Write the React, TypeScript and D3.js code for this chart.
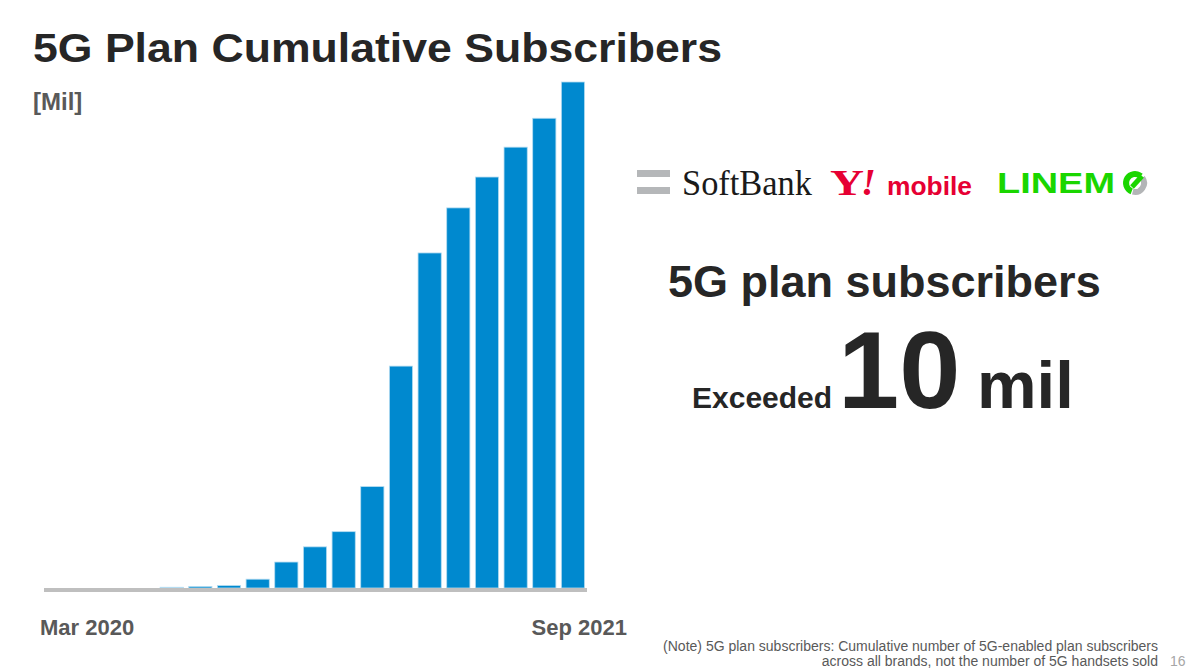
import { useMemo } from 'react';
import * as d3 from 'd3';

const W = 1200;
const H = 672;

// Mar 2020 .. Sep 2021, one bar per month
const months = [
  'Mar 2020', 'Apr 2020', 'May 2020', 'Jun 2020', 'Jul 2020', 'Aug 2020', 'Sep 2020',
  'Oct 2020', 'Nov 2020', 'Dec 2020', 'Jan 2021', 'Feb 2021', 'Mar 2021', 'Apr 2021',
  'May 2021', 'Jun 2021', 'Jul 2021', 'Aug 2021', 'Sep 2021',
];
// cumulative subscribers, millions
const subscribers = [
  0, 0, 0, 0, 0.015, 0.03, 0.05, 0.18, 0.53, 0.84, 1.15, 2.07, 4.53, 6.84,
  7.76, 8.39, 9.0, 9.59, 10.33,
];
const axisLabels = ['Mar 2020', 'Sep 2021'];
const footnoteLines = [
  '(Note) 5G plan subscribers: Cumulative number of 5G-enabled plan subscribers',
  'across all brands, not the number of 5G handsets sold',
];

const SANS = '"Liberation Sans", Arial, sans-serif';
const SERIF = '"Liberation Serif", "Times New Roman", serif';
const BAR = '#0089cf';
const DARK = '#262626';
const MID = '#595959';
const GREEN = '#1ad600';

const PLOT = { left: 44, right: 586, baseline: 588, top: 82 };

const LinemoO = ({ cx, cy }: { cx: number; cy: number }) => {
  const ring = d3.arc<any>().innerRadius(6).outerRadius(12);
  const cut = (40 * Math.PI) / 180;
  const green = ring({ startAngle: -Math.PI * 0.88, endAngle: cut }) || '';
  const gray = ring({ startAngle: cut + 0.25, endAngle: Math.PI * 1.08 }) || '';
  return (
    <g transform={`translate(${cx},${cy})`}>
      <path d={gray} fill="#b3b5b7" />
      <path d={green} fill={GREEN} />
      <line x1={7} y1={-7} x2={-3} y2={4} stroke={GREEN} strokeWidth={5} />
    </g>
  );
};

export default function App() {
  const x = useMemo(
    () =>
      d3.scaleBand<string>()
        .domain(months)
        .range([PLOT.left, PLOT.right])
        .paddingInner(0.19)
        .paddingOuter(0.05),
    []
  );
  const y = useMemo(
    () =>
      d3.scaleLinear()
        .domain([0, d3.max(subscribers) as number])
        .range([PLOT.baseline, PLOT.top]),
    []
  );

  return (
    <div style={{ position: 'absolute', left: 0, top: 0 }}>
      <svg width={W} height={H} style={{ display: 'block', background: '#fff' }}>
        {/* title */}
        <text x={33} y={62} fontFamily={SANS} fontWeight="bold" fontSize={41} fill={DARK}
          textLength={689} lengthAdjust="spacingAndGlyphs">
          5G Plan Cumulative Subscribers
        </text>
        <text x={33} y={110} fontFamily={SANS} fontWeight="bold" fontSize={24} fill={MID}>
          [Mil]
        </text>

        {/* bars */}
        <g>
          {months.map((m, i) => {
            const v = subscribers[i];
            if (v <= 0) return null;
            const yy = y(v);
            return (
              <rect
                key={m}
                x={x(m)}
                y={yy}
                width={x.bandwidth()}
                height={PLOT.baseline - yy}
                fill={BAR}
                stroke="#b5dcf1"
                strokeWidth={0.8}
              />
            );
          })}
        </g>
        <line
          x1={PLOT.left}
          x2={PLOT.right + 1}
          y1={PLOT.baseline + 2}
          y2={PLOT.baseline + 2}
          stroke="#bfbfbf"
          strokeWidth={4}
        />
        <text x={40} y={635} fontFamily={SANS} fontWeight="bold" fontSize={22} fill={MID}>
          {axisLabels[0]}
        </text>
        <text x={627} y={635} textAnchor="end" fontFamily={SANS} fontWeight="bold" fontSize={22} fill={MID}>
          {axisLabels[1]}
        </text>

        {/* brand logos */}
        <g>
          <rect x={637} y={170} width={33} height={7} fill="#b5b7b9" />
          <rect x={637} y={187} width={33} height={7} fill="#b5b7b9" />
          <text x={682} y={195} fontFamily={SERIF} fontSize={35} fill="#1a1a1a" textLength={130} lengthAdjust="spacingAndGlyphs">
            SoftBank
          </text>

          <text x={830} y={195} fontFamily={SERIF} fontWeight="bold" fontSize={36} fill="#e60033"
            textLength={34} lengthAdjust="spacingAndGlyphs">
            Y
          </text>
          <text x={861} y={195} fontFamily={SERIF} fontWeight="bold" fontStyle="italic" fontSize={38} fill="#e60033">
            !
          </text>
          <text x={887} y={195} fontFamily={SANS} fontWeight="bold" fontSize={26} fill="#e60033" textLength={85} lengthAdjust="spacingAndGlyphs">
            mobile
          </text>

          <text x={997} y={193} fontFamily={SANS} fontWeight="bold" fontSize={29} fill={GREEN} textLength={118} lengthAdjust="spacingAndGlyphs">
            LINEM
          </text>
          <LinemoO cx={1135} cy={183} />
        </g>

        {/* headline */}
        <text x={668} y={297} fontFamily={SANS} fontWeight="bold" fontSize={45} fill={DARK}>
          5G plan subscribers
        </text>
        <text x={692} y={408} fontFamily={SANS} fontWeight="bold" fontSize={30} fill={DARK}>
          Exceeded
        </text>
        <text x={838} y={408} fontFamily={SANS} fontWeight="bold" fontSize={110} fill={DARK}>
          10
        </text>
        <text x={977} y={408} fontFamily={SANS} fontWeight="bold" fontSize={67} fill={DARK}>
          mil
        </text>

        {/* footnote */}
        {footnoteLines.map((t, i) => (
          <text key={i} x={1158} y={651 + i * 15} textAnchor="end" fontFamily={SANS} fontSize={14} fill={MID}>
            {t}
          </text>
        ))}
        <text x={1170} y={666} fontFamily={SANS} fontSize={14} fill="#a6a6a6">
          16
        </text>
      </svg>
    </div>
  );
}
